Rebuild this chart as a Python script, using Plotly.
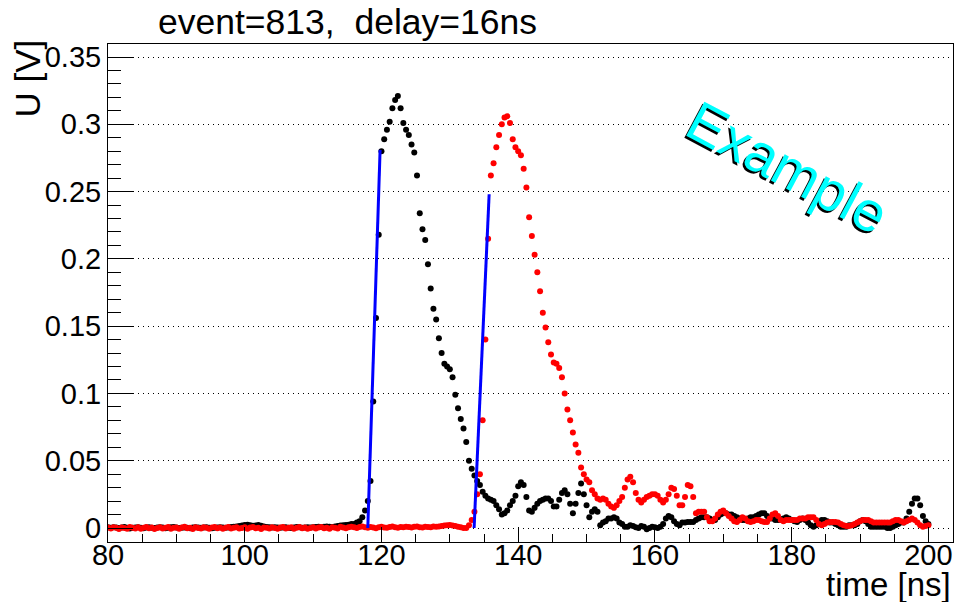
import numpy as np
import plotly.graph_objects as go

# sampling grid of the digitizer (ns)
T0 = 80.0
DT = 0.4
N_SAMPLES = 301

# channel 1 (black) amplitude in V, one value per sample
ch1_volts = [
    0.0005, 0.0002, 0.0006, 0.0003, 0.0000, 0.0004, 0.0007, 0.0002, -0.0003, 0.0001,
    0.0004, 0.0006, 0.0001, -0.0002, 0.0003, 0.0005, 0.0002, 0.0000, 0.0004, 0.0006,
    0.0003, -0.0001, 0.0002, 0.0005, 0.0007, 0.0003, 0.0000, 0.0002, 0.0004, 0.0001,
    -0.0002, 0.0003, 0.0006, 0.0004, 0.0001, 0.0003, 0.0005, 0.0002, -0.0001, 0.0002,
    0.0004, 0.0006, 0.0003, 0.0001, 0.0004, 0.0008, 0.0010, 0.0012, 0.0015, 0.0018,
    0.0022, 0.0025, 0.0020, 0.0016, 0.0019, 0.0023, 0.0017, 0.0011, 0.0008, 0.0005,
    0.0003, 0.0006, 0.0004, 0.0001, 0.0003, 0.0005, 0.0002, 0.0000, 0.0004, 0.0007,
    0.0005, 0.0002, 0.0004, 0.0006, 0.0003, 0.0005, 0.0008, 0.0010, 0.0007, 0.0009,
    0.0012, 0.0010, 0.0008, 0.0011, 0.0015, 0.0018, 0.0020, 0.0022, 0.0025, 0.0030,
    0.003, 0.004, 0.005, 0.008, 0.013, 0.020, 0.035, 0.094, 0.156, 0.218,
    0.280, 0.289, 0.296, 0.302, 0.312, 0.318, 0.321, 0.312, 0.301, 0.296,
    0.292, 0.285, 0.279, 0.262, 0.234, 0.222, 0.214, 0.196, 0.178, 0.163,
    0.155, 0.141, 0.130, 0.122, 0.120, 0.118, 0.112, 0.099, 0.089, 0.081,
    0.074, 0.064, 0.050, 0.044, 0.039, 0.035, 0.032, 0.027, 0.024, 0.022,
    0.021, 0.020, 0.017, 0.014, 0.010, 0.011, 0.013, 0.017, 0.020, 0.024,
    0.031, 0.034, 0.032, 0.023, 0.013, 0.012, 0.015, 0.018, 0.020, 0.021,
    0.022, 0.022, 0.020, 0.016, 0.016, 0.021, 0.026, 0.028, 0.025, 0.018,
    0.011, 0.018, 0.026, 0.033, 0.025, 0.017, 0.008, 0.012, 0.014, 0.012,
    0.002, 0.004, 0.005, 0.007, 0.007, 0.008, 0.007, 0.004, 0.003, 0.001,
    0.001, 0.002, 0.0015, 0.0005, 0.000, 0.0015, 0.001, -0.001, 0.000, 0.001,
    0.0005, 0.000, 0.001, 0.003, 0.007, 0.009, 0.008, 0.005, 0.003, 0.002,
    0.004, 0.004, 0.0045, 0.0045, 0.0045, 0.006, 0.007, 0.008, 0.008, 0.008,
    0.007, 0.006, 0.006, 0.008, 0.010, 0.011, 0.011, 0.010, 0.010, 0.009,
    0.008, 0.007, 0.006, 0.006, 0.007, 0.008, 0.008, 0.009, 0.010, 0.011,
    0.011, 0.009, 0.007, 0.007, 0.006, 0.006, 0.006, 0.007, 0.008, 0.007,
    0.006, 0.005, 0.0045, 0.006, 0.007, 0.006, 0.004, 0.002, 0.001, 0.002,
    0.004, 0.006, 0.006, 0.005, 0.004, 0.004, 0.003, 0.002, 0.001, 0.001,
    0.001, 0.002, 0.002, 0.002, 0.003, 0.005, 0.006, 0.005, 0.003, 0.001,
    0.001, 0.001, 0.001, 0.001, 0.001, 0.000, 0.000, 0.001, 0.002, 0.003,
    0.004, 0.004, 0.007, 0.012, 0.018, 0.022, 0.022, 0.017, 0.009, 0.005, 0.003,
]

# channel 2 (red, delayed) amplitude in V
ch2_volts = [
    0.0003, -0.0004, 0.0006, 0.0001, -0.0007, 0.0004, 0.0000, -0.0005, 0.0007, 0.0002,
    -0.0003, 0.0005, -0.0006, 0.0001, 0.0008, -0.0002, 0.0003, -0.0008, 0.0000, 0.0006,
    -0.0004, 0.0002, 0.0007, -0.0005, 0.0001, 0.0004, -0.0006, 0.0003, 0.0009, -0.0001,
    0.0002, -0.0007, 0.0005, 0.0000, -0.0003, 0.0006, 0.0002, -0.0005, 0.0004, 0.0008,
    -0.0002, 0.0003, -0.0006, 0.0001, 0.0007, -0.0004, 0.0002, 0.0005, -0.0003, 0.0000,
    0.0006, -0.0005, 0.0003, 0.0008, -0.0002, 0.0001, -0.0007, 0.0004, 0.0002, -0.0004,
    0.0005, 0.0000, -0.0006, 0.0003, 0.0007, -0.0003, 0.0002, 0.0005, -0.0005, 0.0001,
    0.0008, -0.0002, 0.0004, -0.0006, 0.0000, 0.0006, -0.0004, 0.0003, 0.0007, -0.0001,
    0.0002, -0.0005, 0.0006, 0.0001, -0.0003, 0.0009, 0.0004, -0.0002, 0.0005, 0.0010,
    0.0006, 0.0000, 0.0007, 0.0012, 0.0005, 0.0001, 0.0008, 0.0003, -0.0002, 0.0006,
    0.0009, 0.0004, 0.0001, 0.0007, 0.0011, 0.0006, 0.0002, 0.0008, 0.0005, 0.0010,
    0.0007, 0.0003, 0.0009, 0.0012, 0.0006, 0.0004, 0.0010, 0.0008, 0.0005, 0.0011,
    0.0009, 0.0012, 0.0015, 0.0018, 0.0020, 0.0022, 0.0018, 0.0014, 0.0010, 0.0006,
    0.000, 0.000, 0.002, 0.006, 0.012, 0.025, 0.040, 0.080, 0.140, 0.215,
    0.262, 0.271, 0.283, 0.292, 0.300, 0.305, 0.306, 0.301, 0.289, 0.283,
    0.280, 0.277, 0.267, 0.253, 0.231, 0.217, 0.203, 0.190, 0.176, 0.160,
    0.149, 0.138, 0.129, 0.123, 0.122, 0.119, 0.112, 0.100, 0.088, 0.080,
    0.071, 0.062, 0.056, 0.045, 0.040, 0.036, 0.034, 0.028, 0.025, 0.022,
    0.021, 0.022, 0.021, 0.018, 0.016, 0.015, 0.017, 0.020, 0.023, 0.030,
    0.036, 0.038, 0.034, 0.026, 0.021, 0.019, 0.021, 0.023, 0.024, 0.025,
    0.025, 0.024, 0.021, 0.019, 0.021, 0.025, 0.030, 0.029, 0.024, 0.017,
    0.017, 0.023, 0.032, 0.031, 0.023, 0.011, 0.012, 0.012, 0.012, 0.008,
    0.005, 0.005, 0.007, 0.010, 0.012, 0.013, 0.011, 0.009, 0.007, 0.005,
    0.0045, 0.006, 0.008, 0.007, 0.005, 0.0045, 0.005, 0.006, 0.006, 0.005,
    0.0045, 0.0045, 0.007, 0.010, 0.011, 0.009, 0.006, 0.005, 0.006, 0.006,
    0.006, 0.006, 0.006, 0.007, 0.007, 0.007, 0.008, 0.008, 0.008, 0.006,
    0.003, 0.002, 0.003, 0.004, 0.0045, 0.0045, 0.0045, 0.004, 0.003, 0.002,
    0.0015, 0.0015, 0.002, 0.003, 0.004, 0.005, 0.006, 0.006, 0.006, 0.005,
    0.004, 0.004, 0.004, 0.004, 0.004, 0.004, 0.004, 0.005, 0.006, 0.006,
    0.005, 0.004, 0.005, 0.006, 0.007, 0.006, 0.004, 0.002, 0.001, 0.0015, 0.002,
]

# linear fits of the leading edges (time ns, volts)
fit1_t = [118.0, 119.8]
fit1_v = [0.0, 0.281]
fit2_t = [133.55, 135.75]
fit2_v = [0.0, 0.248]

x_ticks = [80, 100, 120, 140, 160, 180, 200]
y_ticks = [0, 0.05, 0.1, 0.15, 0.2, 0.25, 0.3, 0.35]
y_tick_text = ["0", "0.05", "0.1", "0.15", "0.2", "0.25", "0.3", "0.35"]

title_text = "event=813,\u00a0 delay=16ns"
x_title = "time [ns]"
y_title = "U [V]"
stamp_text = "Example"

times = np.round(T0 + DT * np.arange(N_SAMPLES), 2)
assert len(ch1_volts) == N_SAMPLES and len(ch2_volts) == N_SAMPLES

FONT = "Liberation Sans, Arial, Helvetica, sans-serif"

fig = go.Figure()
fig.add_trace(go.Scatter(x=times, y=ch1_volts, mode="markers",
                         marker=dict(color="black", size=6), cliponaxis=True))
fig.add_trace(go.Scatter(x=times, y=ch2_volts, mode="markers",
                         marker=dict(color="#ff0000", size=6), cliponaxis=True))
fig.add_trace(go.Scatter(x=fit1_t, y=fit1_v, mode="lines",
                         line=dict(color="#0000ff", width=3)))
fig.add_trace(go.Scatter(x=fit2_t, y=fit2_v, mode="lines",
                         line=dict(color="#0000ff", width=3)))

fig.update_layout(
    width=957, height=602,
    margin=dict(l=108, r=4, t=44, b=60),
    paper_bgcolor="white", plot_bgcolor="white",
    showlegend=False,
    font=dict(family=FONT, color="black"),
)
fig.update_xaxes(
    range=[80, 203.6], tickvals=x_ticks, ticktext=[str(v) for v in x_ticks],
    ticks="inside", ticklen=15, tickwidth=1, tickcolor="black",
    showline=True, linecolor="black", linewidth=1, mirror=True,
    showgrid=False, zeroline=False, ticklabelstandoff=-13,
    tickfont=dict(size=29, family=FONT, color="black"),
    minor=dict(ticks="inside", ticklen=8, tick0=80, dtick=5, tickcolor="black",
               tickwidth=1, showgrid=False),
)
fig.update_yaxes(
    range=[-0.0104, 0.3597], tickvals=y_ticks, ticktext=y_tick_text,
    ticks="inside", ticklen=25, tickwidth=1, tickcolor="black",
    showline=True, linecolor="black", linewidth=1, mirror=True,
    showgrid=True, gridcolor="black", gridwidth=1, griddash="1px,4px",
    zeroline=False,
    tickfont=dict(size=29, family=FONT, color="black"),
    minor=dict(ticks="inside", ticklen=13, tick0=0, dtick=0.01, tickcolor="black",
               tickwidth=1, showgrid=False),
)

# title
fig.add_annotation(text=title_text, xref="paper", yref="paper", x=0.0568, y=1.0442,
                   xanchor="left", yanchor="middle", showarrow=False,
                   font=dict(size=35.5, family=FONT, color="black"))
# axis titles
fig.add_annotation(text=x_title, xref="paper", yref="paper", x=0.999, y=-0.0853,
                   xanchor="right", yanchor="middle", showarrow=False, borderpad=0,
                   font=dict(size=33, family=FONT, color="black"))
fig.add_annotation(text=y_title, xref="paper", yref="paper", x=-0.0964, y=1.012,
                   xanchor="center", yanchor="top", textangle=-90, showarrow=False,
                   font=dict(size=35, family=FONT, color="black"))
# "Example" stamp with shadow
fig.add_annotation(text=stamp_text, xref="paper", yref="paper", x=0.8047, y=0.753,
                   xanchor="center", yanchor="middle", textangle=28, showarrow=False,
                   xshift=-2, yshift=-2,
                   font=dict(size=56, family=FONT, color="black"))
fig.add_annotation(text=stamp_text, xref="paper", yref="paper", x=0.8047, y=0.753,
                   xanchor="center", yanchor="middle", textangle=28, showarrow=False,
                   font=dict(size=56, family=FONT, color="#00ffff"))

fig.write_html("out.html")
